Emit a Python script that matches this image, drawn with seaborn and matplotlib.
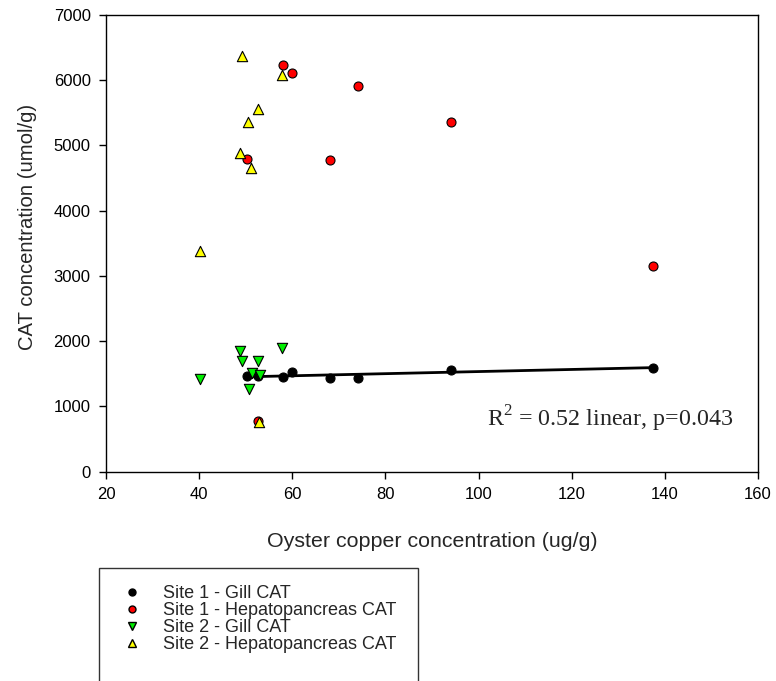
import matplotlib
matplotlib.use("Agg")
import matplotlib.pyplot as plt
import seaborn as sns
import pandas as pd
from matplotlib.patches import Rectangle
from matplotlib.lines import Line2D

# Data
s1_gill_x = [50.2, 52.6, 58.1, 59.9, 68.0, 74.1, 94.1, 137.5]
s1_gill_y = [1472, 1460, 1447, 1528, 1441, 1441, 1564, 1594]

s1_hep_x = [58.1, 59.9, 74.1, 94.1, 50.2, 68.0, 137.5, 52.6]
s1_hep_y = [6230, 6107, 5908, 5361, 4798, 4783, 3153, 780]

s2_gill_x = [48.8, 57.8, 49.2, 52.7, 40.1, 51.3, 53.1, 50.6]
s2_gill_y = [1850, 1891, 1697, 1697, 1426, 1508, 1482, 1268]

s2_hep_x = [49.2, 57.8, 52.7, 50.5, 48.7, 51.2, 40.1, 52.8]
s2_hep_y = [6373, 6081, 5560, 5361, 4890, 4651, 3383, 762]

series_names = ["Site 1 - Gill CAT", "Site 1 - Hepatopancreas CAT",
                "Site 2 - Gill CAT", "Site 2 - Hepatopancreas CAT"]
x_ticks = [20, 40, 60, 80, 100, 120, 140, 160]
y_ticks = [0, 1000, 2000, 3000, 4000, 5000, 6000, 7000]
annotation = "R$^2$ = 0.52 linear, p=0.043"

sns.set_style("ticks")
plt.rcParams['font.family'] = ['Liberation Sans', 'DejaVu Sans']
plt.rcParams['mathtext.fontset'] = 'custom'
plt.rcParams['mathtext.rm'] = 'Liberation Serif'

fig = plt.figure(figsize=(7.76, 6.81), dpi=100)
ax = fig.add_axes([106/776, 1-471.7/681, (758-106)/776, (471.7-15)/681])

df_g1 = pd.DataFrame({"x": s1_gill_x, "y": s1_gill_y})
df_h1 = pd.DataFrame({"x": s1_hep_x, "y": s1_hep_y})
df_g2 = pd.DataFrame({"x": s2_gill_x, "y": s2_gill_y})
df_h2 = pd.DataFrame({"x": s2_hep_x, "y": s2_hep_y})

sns.scatterplot(data=df_g1, x="x", y="y", ax=ax, color="black", marker="o",
                s=42, edgecolor="black", linewidth=0.8, zorder=3)
sns.regplot(data=df_g1, x="x", y="y", ax=ax, scatter=False, ci=None,
            line_kws=dict(color="black", lw=2.0, zorder=3.5))
sns.scatterplot(data=df_h1, x="x", y="y", ax=ax, color="#ff0000", marker="o",
                s=42, edgecolor="black", linewidth=0.8, zorder=4)
sns.scatterplot(data=df_g2, x="x", y="y", ax=ax, color="#00ee00", marker="v",
                s=55, edgecolor="black", linewidth=0.8, zorder=5)
sns.scatterplot(data=df_h2, x="x", y="y", ax=ax, color="#ffff00", marker="^",
                s=55, edgecolor="black", linewidth=0.8, zorder=6)

ax.set_xlim(20, 160)
ax.set_ylim(0, 7000)
ax.set_xticks(x_ticks)
ax.set_yticks(y_ticks)
ax.set_xticklabels([str(v) for v in x_ticks], fontsize=12)
ax.set_yticklabels([str(v) for v in y_ticks], fontsize=12)
ax.tick_params(direction="out", length=5, width=1, colors="black", pad=6)
for sp in ax.spines.values():
    sp.set_visible(True)
    sp.set_linewidth(1.0)
    sp.set_color("black")
ax.set_xlabel("Oyster copper concentration (ug/g)", fontsize=15.4, labelpad=21.5)
ax.set_ylabel("CAT concentration (umol/g)", fontsize=14.6)
ax.yaxis.set_label_coords(-0.1058, 0.537)

ax.text(101.9, 690, annotation, fontsize=17.3,
        family=['Liberation Serif', 'DejaVu Serif'],
        va="baseline", ha="left", clip_on=False)

# Legend
fig.patches.append(Rectangle((99/776, -0.05), (418-99)/776, (1-568/681)+0.05,
                             transform=fig.transFigure, facecolor="white",
                             edgecolor="#333333", linewidth=1.0))
handles = [
    Line2D([], [], linestyle="none", marker="o", color="black", markeredgecolor="black", markersize=5),
    Line2D([], [], linestyle="none", marker="o", color="#ff0000", markeredgecolor="black", markersize=5),
    Line2D([], [], linestyle="none", marker="v", color="#00ee00", markeredgecolor="black", markersize=5.5),
    Line2D([], [], linestyle="none", marker="^", color="#ffff00", markeredgecolor="black", markersize=5.5),
]
fig.legend(handles, series_names, loc="upper left",
           bbox_to_anchor=(122.7/776, 1-585/681), frameon=False, fontsize=13,
           handlelength=1.0, handletextpad=1.24, labelspacing=0.0,
           borderaxespad=0, borderpad=0)

fig.savefig("out.png", dpi=100)
